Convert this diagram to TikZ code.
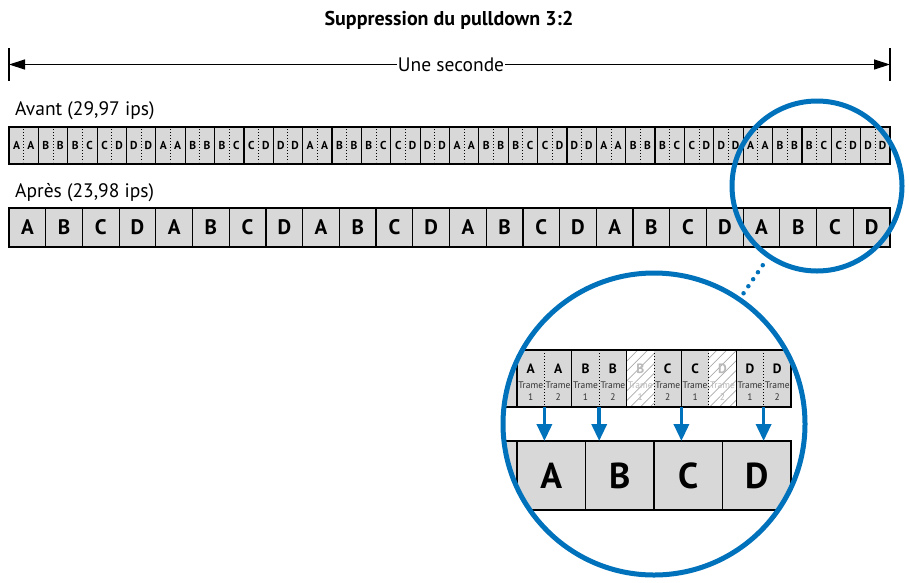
\documentclass[tikz,border=0pt]{standalone}
\usepackage{fontspec}
\setmainfont{PT Sans}
\usetikzlibrary{positioning,arrows.meta,patterns.meta}

\definecolor{framegray}{RGB}{216,216,216}
\definecolor{lensblue}{RGB}{0,114,188}
\definecolor{fadegray}{RGB}{185,185,185}
\definecolor{hatchgray}{RGB}{170,170,170}
\definecolor{tramegray}{RGB}{50,50,50}

\begin{document}
\begin{tikzpicture}[x=1pt, y=-1pt, > = {Triangle[length=16pt,width=10pt]},
  frame/.style={draw, fill=framegray, line width=1.2pt, inner sep=0pt, outer sep=0pt},
  fieldline/.style={dotted, line width=1pt},
  lens/.style={circle, draw=lensblue, line width=5pt, inner sep=0pt, outer sep=0pt},
  pull/.style={draw=lensblue, line width=3.5pt, -{Triangle[length=17pt,width=15pt]}},
  hatched/.style={fill=white, postaction={pattern={Lines[angle=45,distance=7pt,line width=0.7pt]}, pattern color=hatchgray}},
  caption/.style={font=\fontsize{19.5}{22}\selectfont, anchor=base west, inner sep=0pt},
  avletter/.style={font=\bfseries\fontsize{11.5}{12}\selectfont, inner sep=0pt},
  apletter/.style={font=\bfseries\fontsize{21}{24}\selectfont},
  fieldletter/.style={font=\bfseries\fontsize{13.5}{14}\selectfont, inner sep=0pt},
  fieldtext/.style={font=\fontsize{9.5}{10}\selectfont, inner sep=0pt}]
\useasboundingbox (0,0) rectangle (909,582);
\fill[white] (0,0) rectangle (909,582);

\node[font=\bfseries\fontsize{20}{24}\selectfont, anchor=base, inner sep=0pt] (title) at (449,25) {Suppression du pulldown 3:2};

% une seconde
\coordinate (spanL) at (9,64.5);
\coordinate (spanR) at (890,64.5);
\draw[line width=1.3pt] (9,48) -- (9,81);
\draw[line width=1.3pt] (890,48) -- (890,81);
\node[font=\fontsize{19.5}{22}\selectfont, anchor=base, inner sep=1pt] (span) at (451,71.5) {Une seconde};
\draw[->, line width=1.2pt] (span.west |- spanL) -- (spanL);
\draw[->, line width=1.2pt] (span.east |- spanR) -- (spanR);

\node[caption] (avant) at (15,115) {Avant (29,97 ips)};
\node[caption] (apres) at (15,197) {Après (23,98 ips)};

% avant : 30 images
\foreach \r in {0,...,5}
  \foreach \a/\b [count=\k from 0] in {A/A,B/B,B/C,C/D,D/D} {
    \pgfmathtruncatemacro\i{5*\r+\k}
    \pgfmathsetmacro\x{9+(\i+0.5)*29.3667}
    \node[frame, minimum width=29.37pt, minimum height=37pt] (av\i) at (\x,145.5) {};
    \draw[fieldline] ([yshift=-2pt]av\i.north) -- ([yshift=2pt]av\i.south);
    \node[avletter] at ([xshift=-7.2pt]av\i.center) {\a};
    \node[avletter] at ([xshift=7.2pt]av\i.center) {\b};
  }

% apres : 24 images
\foreach \r in {0,...,5}
  \foreach \a [count=\k from 0] in {A,B,C,D} {
    \pgfmathtruncatemacro\i{4*\r+\k}
    \pgfmathsetmacro\x{9+(\i+0.5)*36.7083}
    \node[frame, apletter, minimum width=36.71pt, minimum height=39pt] (ap\i) at (\x,227.5) {\a};
  }

\node[lens, minimum size=170pt] (zoom) at (817,186) {};

% agrandissement
\begin{scope}
\clip (654,424) circle[radius=151];
\node[frame, minimum width=54.8pt, minimum height=57pt] (m0) at (489.6,378.5) {};
\foreach \k/\a/\b/\ha/\hb in {1/A/A/0/0, 2/B/B/0/0, 3/B/C/1/0, 4/C/D/0/1, 5/D/D/0/0} {
  \pgfmathsetmacro\x{517+54.8*(\k-0.5)}
  \node[frame, minimum width=54.8pt, minimum height=57pt] (m\k) at (\x,378.5) {};
  \def\ca{black}\def\ta{tramegray}
  \def\cb{black}\def\tb{tramegray}
  \ifnum\ha=1 \path[hatched] (m\k.north west) rectangle (m\k.south); \def\ca{fadegray}\def\ta{fadegray}\fi
  \ifnum\hb=1 \path[hatched] (m\k.north) rectangle (m\k.south east); \def\cb{fadegray}\def\tb{fadegray}\fi
  \draw[line width=1.2pt] (m\k.north west) rectangle (m\k.south east);
  \draw[fieldline] (m\k.north) -- (m\k.south);
  \node[fieldletter, text=\ca] at (\x-13.7,369) {\a};
  \node[fieldtext, text=\ta] at (\x-13.7,385) {Trame};
  \node[fieldtext, text=\ta] at (\x-13.7,397) {1};
  \node[fieldletter, text=\cb] at (\x+13.7,369) {\b};
  \node[fieldtext, text=\tb] at (\x+13.7,385) {Trame};
  \node[fieldtext, text=\tb] at (\x+13.7,397) {2};
}
\node[frame, minimum width=68.5pt, minimum height=69pt] (b0) at (482.75,475.5) {};
\foreach \a [count=\k] in {A,B,C,D} {
  \pgfmathsetmacro\x{517+68.5*(\k-0.5)}
  \node[frame, font=\bfseries\fontsize{36}{40}\selectfont, minimum width=68.5pt, minimum height=69pt] (b\k) at (\x,475.5) {\a};
}
\draw[pull] (m1.south) -- (m1.south |- b1.north);
\draw[pull] (m2.south) -- (m2.south |- b2.north);
\draw[pull] (m3.south east) -- (m3.south east |- b3.north);
\draw[pull] (m5.south) -- (m5.south |- b4.north);
\end{scope}

\node[lens, minimum size=302pt] (loupe) at (654,424) {};
\draw[lensblue, line width=4.5pt, line cap=round, dash pattern=on 0pt off 8.5pt, shorten <=11pt, shorten >=7pt] (zoom) -- (loupe);
\end{tikzpicture}
\end{document}
